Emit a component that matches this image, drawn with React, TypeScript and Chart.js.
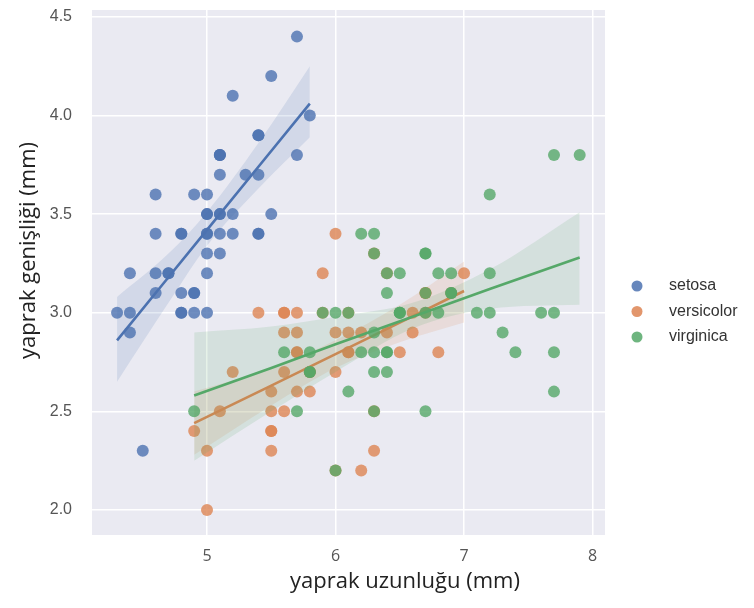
import React, { useEffect, useRef } from "react";
import { Chart, registerables } from "chart.js";

Chart.register(...registerables);

// ---- data (iris: sepal length vs sepal width) ----
const setosaX = [5.1,4.9,4.7,4.6,5.0,5.4,4.6,5.0,4.4,4.9,5.4,4.8,4.8,4.3,5.8,5.7,5.4,5.1,5.7,5.1,5.4,5.1,4.6,5.1,4.8,5.0,5.0,5.2,5.2,4.7,4.8,5.4,5.2,5.5,4.9,5.0,5.5,4.9,4.4,5.1,5.0,4.5,4.4,5.0,5.1,4.8,5.1,4.6,5.3,5.0];
const setosaY = [3.5,3.0,3.2,3.1,3.6,3.9,3.4,3.4,2.9,3.1,3.7,3.4,3.0,3.0,4.0,4.4,3.9,3.5,3.8,3.8,3.4,3.7,3.6,3.3,3.4,3.0,3.4,3.5,3.4,3.2,3.1,3.4,4.1,4.2,3.1,3.2,3.5,3.6,3.0,3.4,3.5,2.3,3.2,3.5,3.8,3.0,3.8,3.2,3.7,3.3];
const versicolorX = [7.0,6.4,6.9,5.5,6.5,5.7,6.3,4.9,6.6,5.2,5.0,5.9,6.0,6.1,5.6,6.7,5.6,5.8,6.2,5.6,5.9,6.1,6.3,6.1,6.4,6.6,6.8,6.7,6.0,5.7,5.5,5.5,5.8,6.0,5.4,6.0,6.7,6.3,5.6,5.5,5.5,6.1,5.8,5.0,5.6,5.7,5.7,6.2,5.1,5.7];
const versicolorY = [3.2,3.2,3.1,2.3,2.8,2.8,3.3,2.4,2.9,2.7,2.0,3.0,2.2,2.9,2.9,3.1,3.0,2.7,2.2,2.5,3.2,2.8,2.5,2.8,2.9,3.0,2.8,3.0,2.9,2.6,2.4,2.4,2.7,2.7,3.0,3.4,3.1,2.3,3.0,2.5,2.6,3.0,2.6,2.3,2.7,3.0,2.9,2.9,2.5,2.8];
const virginicaX = [6.3,5.8,7.1,6.3,6.5,7.6,4.9,7.3,6.7,7.2,6.5,6.4,6.8,5.7,5.8,6.4,6.5,7.7,7.7,6.0,6.9,5.6,7.7,6.3,6.7,7.2,6.2,6.1,6.4,7.2,7.4,7.9,6.4,6.3,6.1,7.7,6.3,6.4,6.0,6.9,6.7,6.9,5.8,6.8,6.7,6.7,6.3,6.5,6.2,5.9];
const virginicaY = [3.3,2.7,3.0,2.9,3.0,3.0,2.5,2.9,2.5,3.6,3.2,2.7,3.0,2.5,2.8,3.2,3.0,3.8,2.6,2.2,3.2,2.8,2.8,2.7,3.3,3.2,2.8,3.0,2.8,3.0,2.8,3.8,2.8,2.8,2.6,3.0,3.4,3.1,3.0,3.1,3.1,3.1,2.7,3.2,3.3,3.0,2.5,3.0,3.4,3.0];

// regression lines and confidence bands
const setosaFitX = [4.3, 4.7, 5.0, 5.4, 5.8];
const setosaFitY = [2.86, 3.18, 3.42, 3.74, 4.06];
const setosaLow = [2.65, 3.05, 3.34, 3.63, 3.89];
const setosaHigh = [3.08, 3.30, 3.51, 3.86, 4.25];

const versicolorFitX = [4.9, 5.5, 6.0, 6.5, 7.0];
const versicolorFitY = [2.44, 2.63, 2.79, 2.95, 3.11];
const versicolorLow = [2.28, 2.53, 2.72, 2.85, 2.95];
const versicolorHigh = [2.60, 2.72, 2.86, 3.04, 3.26];

const virginicaFitX = [4.9, 5.5, 6.0, 6.6, 7.2, 7.9];
const virginicaFitY = [2.58, 2.72, 2.84, 2.98, 3.12, 3.28];
const virginicaLow = [2.25, 2.50, 2.70, 2.92, 3.02, 3.04];
const virginicaHigh = [2.90, 2.93, 2.98, 3.05, 3.22, 3.51];

const xTicks = [5, 6, 7, 8];
const yTicks = [2.0, 2.5, 3.0, 3.5, 4.0, 4.5];
const speciesNames = ["setosa", "versicolor", "virginica"];
const xTitle = "yaprak uzunluğu (mm)";
const yTitle = "yaprak genişliği (mm)";

const COLORS = ["76,114,176", "221,132,82", "85,168,104"];

const pts = (xs: number[], ys: number[]) => xs.map((x, i) => ({ x, y: ys[i] }));

export default function App() {
  const ref = useRef<HTMLCanvasElement | null>(null);

  useEffect(() => {
    document.body.style.margin = "0";
    const canvas = ref.current;
    if (!canvas) return;

    const groups = [
      { x: setosaX, y: setosaY, fx: setosaFitX, fy: setosaFitY, lo: setosaLow, hi: setosaHigh },
      { x: versicolorX, y: versicolorY, fx: versicolorFitX, fy: versicolorFitY, lo: versicolorLow, hi: versicolorHigh },
      { x: virginicaX, y: virginicaY, fx: virginicaFitX, fy: virginicaFitY, lo: virginicaLow, hi: virginicaHigh },
    ];

    const datasets: any[] = [];
    let order = 100;
    groups.forEach((g, gi) => {
      const c = COLORS[gi];
      datasets.push({
        type: "scatter",
        label: speciesNames[gi],
        data: pts(g.x, g.y),
        backgroundColor: `rgba(${c},0.8)`,
        borderWidth: 0,
        pointRadius: 6,
        pointHoverRadius: 6,
        order: order--,
      });
      const lowIndex = datasets.length;
      datasets.push({
        type: "line",
        label: "_low",
        data: pts(g.fx, g.lo),
        borderWidth: 0,
        borderColor: "rgba(0,0,0,0)",
        pointRadius: 0,
        fill: false,
        cubicInterpolationMode: "monotone",
        order: order--,
      });
      datasets.push({
        type: "line",
        label: "_high",
        data: pts(g.fx, g.hi),
        borderWidth: 0,
        borderColor: "rgba(0,0,0,0)",
        backgroundColor: `rgba(${c},0.15)`,
        pointRadius: 0,
        fill: { target: lowIndex },
        cubicInterpolationMode: "monotone",
        order: order--,
      });
      datasets.push({
        type: "line",
        label: "_fit",
        data: pts(g.fx, g.fy),
        borderWidth: 2.6,
        borderColor: `rgb(${c})`,
        pointRadius: 0,
        fill: false,
        order: order--,
      });
    });

    const bgPlugin = {
      id: "bg",
      beforeDraw(chart: any) {
        const { ctx, chartArea } = chart;
        ctx.save();
        ctx.fillStyle = "#EAEAF2";
        ctx.fillRect(chartArea.left, chartArea.top, chartArea.right - chartArea.left, chartArea.bottom - chartArea.top);
        ctx.restore();
      },
    };

    const decoPlugin = {
      id: "deco",
      afterDraw(chart: any) {
        const { ctx } = chart;
        ctx.save();
        // legend
        speciesNames.forEach((name, i) => {
          const y = 286 + i * 25.5;
          ctx.beginPath();
          ctx.fillStyle = `rgba(${COLORS[i]},0.85)`;
          ctx.arc(637, y, 5.5, 0, Math.PI * 2);
          ctx.fill();
          ctx.fillStyle = "#333";
          ctx.font = "16px 'Liberation Sans', Arial, sans-serif";
          ctx.textAlign = "left";
          ctx.textBaseline = "middle";
          ctx.fillText(name, 669, y);
        });
        // axis titles
        ctx.fillStyle = "#222";
        ctx.font = "22px 'Open Sans', sans-serif";
        ctx.textAlign = "left";
        ctx.textBaseline = "alphabetic";
        ctx.fillText(xTitle, 290, 588);
        ctx.translate(35, 359);
        ctx.rotate(-Math.PI / 2);
        ctx.fillText(yTitle, 0, 0);
        ctx.restore();
      },
    };

    const chart = new Chart(canvas, {
      type: "scatter",
      data: { datasets },
      options: {
        animation: false,
        responsive: false,
        events: [],
        layout: { padding: { top: 10, right: 149, left: 0, bottom: 0 } },
        plugins: { legend: { display: false }, tooltip: { enabled: false } },
        scales: {
          x: {
            type: "linear",
            min: 4.105,
            max: 8.097,
            afterBuildTicks: (s: any) => { s.ticks = xTicks.map((v) => ({ value: v })); },
            afterFit: (s: any) => { s.height = 73; s.paddingLeft = 0; s.paddingRight = 0; },
            grid: { color: "#ffffff", lineWidth: 1.5, drawTicks: false },
            border: { display: false },
            ticks: {
              padding: 12,
              color: "#555",
              font: { family: "'Open Sans', sans-serif", size: 16 },
              callback: (v: any) => String(v),
            },
          },
          y: {
            type: "linear",
            min: 1.873,
            max: 4.535,
            afterBuildTicks: (s: any) => { s.ticks = yTicks.map((v) => ({ value: v })); },
            afterFit: (s: any) => { s.width = 92; s.paddingTop = 0; s.paddingBottom = 0; },
            grid: { color: "#ffffff", lineWidth: 1.5, drawTicks: false },
            border: { display: false },
            ticks: {
              padding: 20,
              color: "#555",
              font: { family: "'Liberation Sans', Arial, sans-serif", size: 16 },
              callback: (v: any) => Number(v).toFixed(1),
            },
          },
        },
      },
      plugins: [bgPlugin, decoPlugin],
    });

    return () => chart.destroy();
  }, []);

  return (
    <div style={{ position: "absolute", left: 0, top: 0, width: 754, height: 608, background: "#fff" }}>
      <canvas ref={ref} width={754} height={608} style={{ width: 754, height: 608 }} />
    </div>
  );
}
